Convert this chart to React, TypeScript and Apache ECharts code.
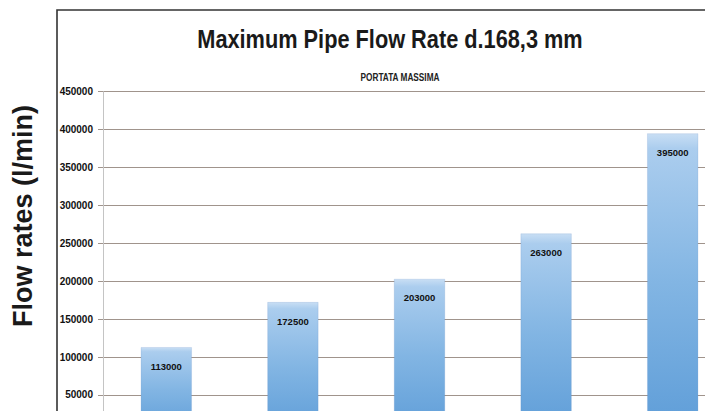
import React, { useEffect, useRef } from "react";
import * as echarts from "echarts";

const categories = ["1", "2", "3", "4", "5"];
const flowRates = [113000, 172500, 203000, 263000, 395000];
const yTicks = { min: 0, max: 450000, interval: 50000 };
const titleText = "Maximum Pipe Flow Rate d.168,3 mm";
const subtitleText = "PORTATA MASSIMA";
const yAxisTitle = "Flow rates (l/min)";

const FONT = "Liberation Sans, Arial, sans-serif";

export default function App() {
  const ref = useRef<HTMLDivElement>(null);
  useEffect(() => {
    if (!ref.current) return;
    const chart = echarts.init(ref.current, undefined, { renderer: "svg" });
    chart.setOption({
      animation: false,
      backgroundColor: "#ffffff",
      grid: { left: 103, top: 91.7, width: 633, height: 341.2, containLabel: false },
      xAxis: {
        type: "category",
        data: categories,
        axisLabel: { show: false },
        axisTick: { show: false },
        axisLine: { show: true, lineStyle: { color: "#a0948c" } },
      },
      yAxis: {
        type: "value",
        min: yTicks.min,
        max: yTicks.max,
        interval: yTicks.interval,
        axisLine: { show: true, lineStyle: { color: "#c4c4c4", width: 1 } },
        axisTick: { show: true, length: 5, lineStyle: { color: "#a0948c" } },
        axisLabel: {
          showMinLabel: false,
          margin: 10,
          fontFamily: FONT,
          fontSize: 10,
          fontWeight: "bold",
          color: "#111",
          formatter: (v: number) => String(v),
        },
        splitLine: { show: true, lineStyle: { color: "#a0948c", width: 1 } },
      },
      series: [
        {
          type: "bar",
          data: flowRates,
          barWidth: 51,
          itemStyle: {
            color: new echarts.graphic.LinearGradient(0, 0, 0, 1, [
              { offset: 0, color: "#c8def4" },
              { offset: 0.05, color: "#abcdee" },
              { offset: 0.5, color: "#82b5e3" },
              { offset: 1, color: "#5e9dd8" },
            ]),
            borderColor: "rgba(80,130,190,0.35)",
            borderWidth: 0.5,
          },
          label: {
            show: true,
            position: "insideTop",
            distance: 14,
            fontFamily: FONT,
            fontSize: 9.5,
            fontWeight: "bold",
            color: "#111",
            formatter: (p: any) => String(p.value),
          },
        },
      ],
      graphic: [
        {
          type: "rect",
          shape: { x: 57, y: 10, width: 800, height: 600 },
          style: { fill: "none", stroke: "#333", lineWidth: 1.6 },
          silent: true,
        },
        {
          type: "text",
          x: 390,
          y: 39,
          scaleX: 0.87,
          style: {
            text: titleText,
            fontFamily: FONT,
            fontSize: 25,
            fontWeight: "bold",
            fill: "#1a1a1a",
            align: "center",
            verticalAlign: "middle",
          },
        },
        {
          type: "text",
          x: 400,
          y: 77,
          scaleX: 0.75,
          style: {
            text: subtitleText,
            fontFamily: FONT,
            fontSize: 11,
            fontWeight: "bold",
            fill: "#222",
            align: "center",
            verticalAlign: "middle",
          },
        },
        {
          type: "text",
          x: 23,
          y: 216,
          rotation: Math.PI / 2,
          style: {
            text: yAxisTitle,
            fontFamily: FONT,
            fontSize: 27,
            fontWeight: "bold",
            fill: "#1a1a1a",
            align: "center",
            verticalAlign: "middle",
          },
        },
      ],
    });
    return () => chart.dispose();
  }, []);
  return (
    <div style={{ position: "fixed", left: 0, top: 0, width: 705, height: 411, overflow: "hidden", background: "#fff" }}>
      <div ref={ref} style={{ width: 760, height: 470 }} />
    </div>
  );
}
